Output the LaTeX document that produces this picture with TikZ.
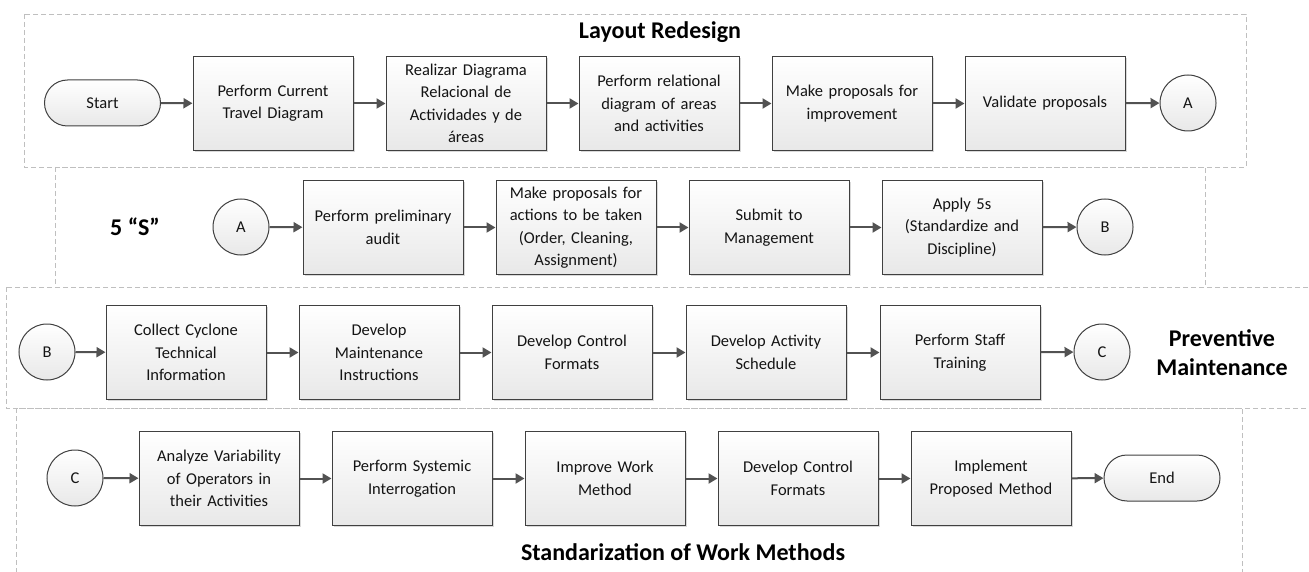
\documentclass[tikz,border=0pt]{standalone}
\usepackage{fontspec}
\setmainfont{Carlito}
\usetikzlibrary{arrows.meta,shadows,shapes.misc}
\begin{document}
\begin{tikzpicture}[x=1pt,y=-1pt,
  proc/.style={draw=black!75, line width=1pt, top color=white, bottom color=black!9,
    minimum width=160pt, minimum height=94pt, text width=154pt, align=center,
    inner sep=0pt, font=\fontsize{16.5}{22.5}\selectfont, text=black!92,
    drop shadow={shadow xshift=1.5pt,shadow yshift=-1.5pt,opacity=0.3}},
  conn/.style={draw=black!75, line width=1pt, circle, minimum size=56pt, inner sep=0pt,
    top color=white, bottom color=black!9, font=\fontsize{16.5}{22}\selectfont, text=black!92},
  term/.style={draw=black!75, line width=1pt, rounded rectangle, minimum width=116pt,
    minimum height=46pt, inner sep=0pt, top color=white, bottom color=black!9,
    font=\fontsize{16.5}{22}\selectfont, text=black!92},
  arr/.style={draw=black!68, line width=2pt, -{Triangle[length=9pt,width=10pt]}},
  frm/.style={draw=black!25, line width=0.9pt, dash pattern=on 5pt off 3pt},
  ttl/.style={font=\fontsize{24}{29}\selectfont\bfseries, align=center, text=black}
]
\useasboundingbox (0,0) rectangle (1309,572);
% frames
\draw[frm] (24,14) rectangle (1246,167);
\draw[frm] (55,167) rectangle (1205,287);
\draw[frm] (6,287) rectangle (1320,408);
\draw[frm] (16,408) rectangle (1242,590);

% titles
\node[ttl] (t1) at (660,32) {Layout Redesign};
\node[ttl] (t2) at (135,227) {5 “S”};
\node[ttl] (t3) at (1222,353) {Preventive\\Maintenance};
\node[ttl] (t4) at (683,552) {Standarization of Work Methods};

% row 1
\node[term] (start) at (102.5,103) {Start};
\node[proc] (b11) at (273,103.5) {Perform Current\\Travel Diagram};
\node[proc] (b12) at (466,103.5) {Realizar Diagrama\\Relacional de\\Actividades y de\\áreas};
\node[proc] (b13) at (659,103.5) {Perform relational\\diagram of areas\\and activities};
\node[proc] (b14) at (852,103.5) {Make proposals for\\improvement};
\node[proc] (b15) at (1045,103.5) {Validate proposals};
\node[conn] (a1) at (1188,103) {A};
\draw[arr] (start) -- (b11);
\draw[arr] (b11) -- (b12);
\draw[arr] (b12) -- (b13);
\draw[arr] (b13) -- (b14);
\draw[arr] (b14) -- (b15);
\draw[arr] (b15) -- (a1);

% row 2
\node[conn] (a2) at (241,227) {A};
\node[proc] (b21) at (383,227.5) {Perform preliminary\\audit};
\node[proc] (b22) at (576,227.5) {Make proposals for\\actions to be taken\\(Order, Cleaning,\\Assignment)};
\node[proc] (b23) at (769,227.5) {Submit to\\Management};
\node[proc] (b24) at (962,227.5) {Apply 5s\\(Standardize and\\Discipline)};
\node[conn] (bb2) at (1105,227) {B};
\draw[arr] (a2) -- (b21);
\draw[arr] (b21) -- (b22);
\draw[arr] (b22) -- (b23);
\draw[arr] (b23) -- (b24);
\draw[arr] (b24) -- (bb2);

% row 3
\node[conn] (bb3) at (47,352) {B};
\node[proc] (b31) at (186,352.5) {Collect Cyclone\\Technical\\Information};
\node[proc] (b32) at (379,352.5) {Develop\\Maintenance\\Instructions};
\node[proc] (b33) at (572,352.5) {Develop Control\\Formats};
\node[proc] (b34) at (766,352.5) {Develop Activity\\Schedule};
\node[proc] (b35) at (960,352.5) {Perform Staff\\Training};
\node[conn] (c3) at (1102,352) {C};
\draw[arr] (bb3) -- (b31);
\draw[arr] (b31) -- (b32);
\draw[arr] (b32) -- (b33);
\draw[arr] (b33) -- (b34);
\draw[arr] (b34) -- (b35);
\draw[arr] (b35) -- (c3);

% row 4
\node[conn] (c4) at (75,478) {C};
\node[proc] (b41) at (219,478.5) {Analyze Variability\\of Operators in\\their Activities};
\node[proc] (b42) at (412,478.5) {Perform Systemic\\Interrogation};
\node[proc] (b43) at (605,478.5) {Improve Work\\Method};
\node[proc] (b44) at (798,478.5) {Develop Control\\Formats};
\node[proc] (b45) at (991,478.5) {Implement\\Proposed Method};
\node[term] (end) at (1162,478) {End};
\draw[arr] (c4) -- (b41);
\draw[arr] (b41) -- (b42);
\draw[arr] (b42) -- (b43);
\draw[arr] (b43) -- (b44);
\draw[arr] (b44) -- (b45);
\draw[arr] (b45) -- (end);
\end{tikzpicture}
\end{document}
